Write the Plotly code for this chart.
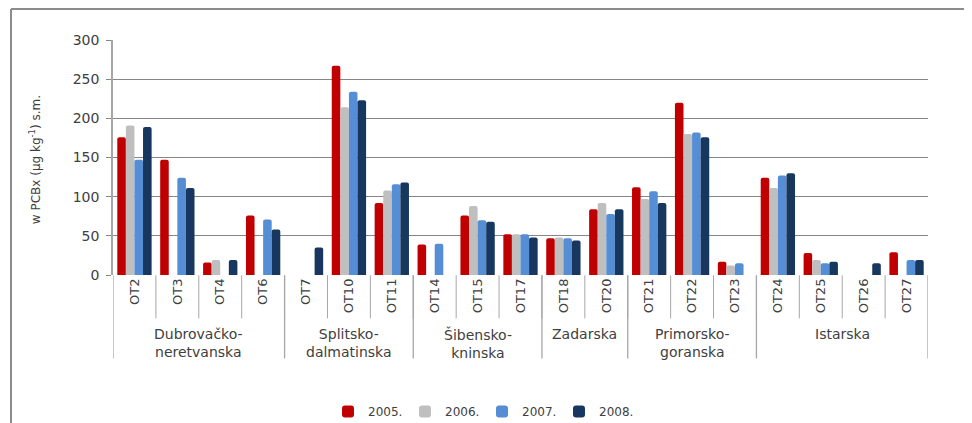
import plotly.graph_objects as go

categories = ["OT2", "OT3", "OT4", "OT6", "OT7", "OT10", "OT11", "OT14", "OT15", "OT17",
              "OT18", "OT20", "OT21", "OT22", "OT23", "OT24", "OT25", "OT26", "OT27"]
v2005 = [176, 147, 16, 76, None, 267, 92, 39, 76, 52, 47, 84, 112, 220, 17, 124, 28, None, 29]
v2006 = [191, None, 19, None, None, 214, 108, None, 88, 52, 48, 92, 97, 180, 12, 111, 19, None, None]
v2007 = [147, 124, None, 71, None, 234, 116, 40, 70, 52, 47, 78, 107, 182, 15, 127, 15, None, 19]
v2008 = [189, 111, 19, 58, 35, 223, 118, None, 68, 48, 44, 84, 92, 176, None, 130, 17, 15, 19]
series_names = ["2005.", "2006.", "2007.", "2008."]
colors = ["#C00000", "#BFBFBF", "#558ED5", "#17375E"]
group_labels = ["Dubrovačko-<br>neretvanska", "Splitsko-<br>dalmatinska", "Šibensko-<br>kninska",
                "Zadarska", "Primorsko-<br>goranska", "Istarska"]
group_sizes = [4, 3, 3, 2, 3, 4]
y_ticks = [0, 50, 100, 150, 200, 250, 300]

# page has an 8px body margin; figure is sized to fit the window
OFF = 8
W, H = 972 - OFF, 423 - OFF
PL, PR, PT, PB = 113, 928, 40, 274.7   # plot area in page pixels
pw = PR - PL
ph = PB - PT


def py(page_y):
    return (PB - page_y) / ph


def pxx(page_x):
    return (page_x - PL) / pw


fig = go.Figure()
for name, vals, c in zip(series_names, [v2005, v2006, v2007, v2008], colors):
    fig.add_trace(go.Bar(x=categories, y=vals, name=name,
                         marker=dict(color=c, line=dict(width=0), cornerradius=2)))

txt = "#404040"
grid = "#868686"
font = "DejaVu Sans"

shapes = []
annotations = []
# category separators
for i in range(1, len(categories)):
    shapes.append(dict(type="line", xref="x", yref="paper", x0=i - 0.5, x1=i - 0.5,
                       y0=py(275), y1=py(318), line=dict(color="#A6A6A6", width=1)))
# group separators and labels
start = 0
bounds = [0]
for gs in group_sizes:
    start += gs
    bounds.append(start)
for b in bounds:
    shapes.append(dict(type="line", xref="x", yref="paper", x0=b - 0.5, x1=b - 0.5,
                       y0=py(275), y1=py(358), line=dict(color="#A6A6A6", width=1.3)))
for lab, a, b in zip(group_labels, bounds[:-1], bounds[1:]):
    annotations.append(dict(text=lab, xref="x", yref="paper", x=(a + b - 1) / 2, y=py(324),
                            yanchor="top", xanchor="center", showarrow=False,
                            font=dict(family=font, size=14, color=txt)))
# outer frame
shapes.append(dict(type="line", xref="paper", yref="paper", x0=pxx(11), x1=pxx(990), y0=py(9), y1=py(9),
                   line=dict(color="#8C8C8C", width=2)))
shapes.append(dict(type="line", xref="paper", yref="paper", x0=pxx(11), x1=pxx(11), y0=py(9), y1=py(440),
                   line=dict(color="#8C8C8C", width=2)))
# y title
annotations.append(dict(text="w PCBx (µg kg<sup>-1</sup>) s.m.", xref="paper", yref="paper",
                        x=pxx(35), y=py(160), textangle=-90, showarrow=False,
                        xanchor="center", yanchor="middle", font=dict(family=font, size=12, color=txt)))

fig.update_layout(
    width=W, height=H,
    margin=dict(l=PL - OFF, r=W - (PR - OFF), t=PT - OFF, b=H - (PB - OFF), autoexpand=False),
    plot_bgcolor="white", paper_bgcolor="white",
    barmode="group", bargap=0.2, bargroupgap=0,
    font=dict(family=font, color=txt, size=12),
    xaxis=dict(type="category", tickangle=-90, showgrid=False, showline=False, ticks="",
               tickfont=dict(family=font, size=13, color=txt), range=[-0.5, len(categories) - 0.5]),
    yaxis=dict(range=[0, 300], tickvals=y_ticks, showgrid=True, gridcolor=grid, gridwidth=1,
               showline=True, linecolor="#A6A6A6", linewidth=1.5, ticks="outside", ticklen=5,
               tickcolor=grid, zeroline=False, ticklabelstandoff=4,
               tickfont=dict(family=font, size=14, color=txt)),
    legend=dict(orientation="h", x=pxx(482), y=py(411), xanchor="center", yanchor="middle",
                font=dict(family=font, size=12, color=txt), itemwidth=30, traceorder="normal",
                entrywidth=32, entrywidthmode="pixels"),
    shapes=shapes, annotations=annotations,
)

fig.write_html("out.html")
